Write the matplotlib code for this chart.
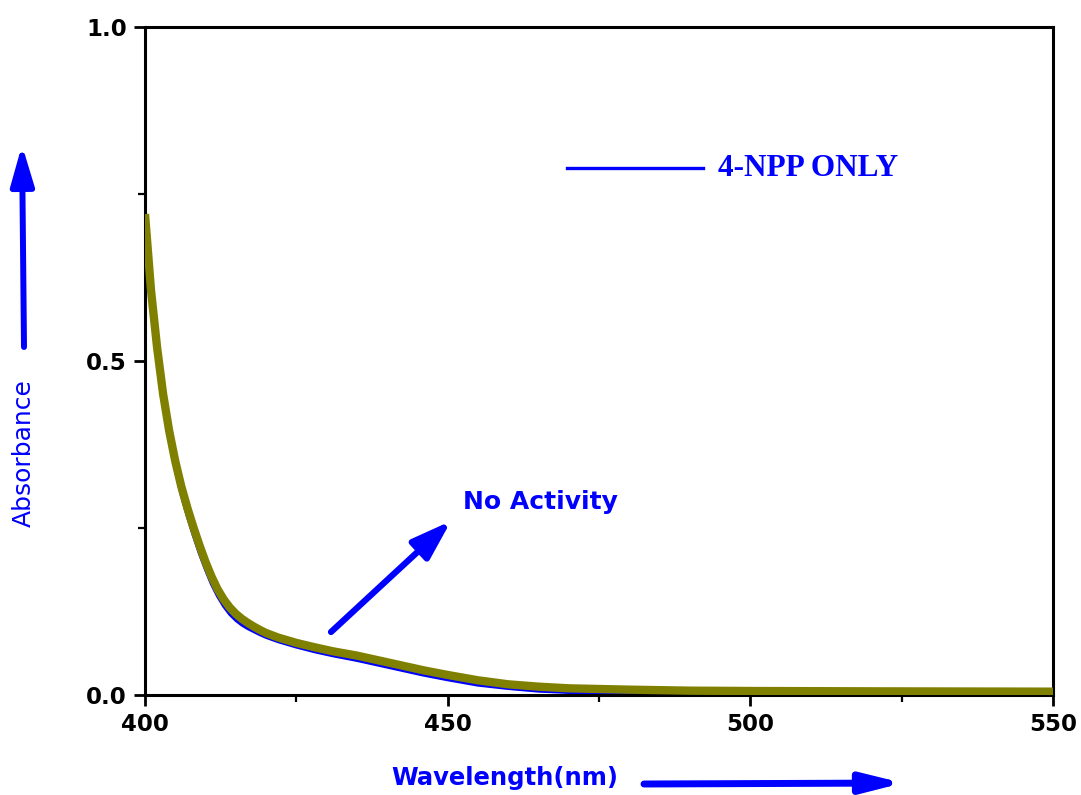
import matplotlib
matplotlib.use("Agg")
import matplotlib.pyplot as plt
from matplotlib.patches import FancyArrowPatch
from matplotlib.ticker import MultipleLocator

wavelength = [400, 401, 402, 403, 404, 405, 406, 407, 408, 409, 410, 411, 412, 413, 414, 415,
              416, 417, 418, 419, 420, 422, 425, 428, 431, 435, 438, 442, 446, 450, 455, 460,
              465, 470, 475, 480, 490, 500, 520, 550]
abs_4npp = [0.72, 0.595, 0.508, 0.438, 0.383, 0.338, 0.300, 0.268, 0.239, 0.212, 0.188, 0.166,
            0.148, 0.133, 0.121, 0.112, 0.105, 0.0995, 0.095, 0.0905, 0.0865, 0.080, 0.072,
            0.065, 0.059, 0.052, 0.046, 0.038, 0.030, 0.023, 0.015, 0.010, 0.006, 0.004, 0.003,
            0.002, 0.002, 0.0015, 0.001, 0.001]
abs_sample = [0.72, 0.605, 0.52, 0.45, 0.395, 0.35, 0.312, 0.280, 0.251, 0.224, 0.199, 0.177,
              0.158, 0.143, 0.131, 0.1215, 0.114, 0.1078, 0.1023, 0.0973, 0.0928, 0.086, 0.078,
              0.0715, 0.0655, 0.059, 0.053, 0.045, 0.037, 0.030, 0.022, 0.016, 0.0125, 0.010,
              0.009, 0.008, 0.0065, 0.006, 0.0055, 0.005]

xticks = [400, 450, 500, 550]
yticks = [0.0, 0.5, 1.0]
ytick_labels = ["0.0", "0.5", "1.0"]

W, H = 1081, 795
fig = plt.figure(figsize=(W / 100, H / 100), dpi=100)
ax = fig.add_axes([145 / W, 1 - 695 / H, (1053 - 145) / W, (695 - 27) / H])

ax.plot(wavelength, abs_4npp, color="#0000FF", lw=2.4, zorder=2)
ax.plot(wavelength, abs_sample, color="#808000", lw=6.0, zorder=3, solid_capstyle="butt")

ax.set_xlim(400, 550)
ax.set_ylim(0, 1.0)
ax.set_xticks(xticks)
ax.set_yticks(yticks)
ax.set_yticklabels(ytick_labels)
ax.xaxis.set_minor_locator(MultipleLocator(25))
ax.yaxis.set_minor_locator(MultipleLocator(0.25))
ax.tick_params(which="major", direction="out", length=8, width=2, labelsize=16.5, pad=5)
ax.tick_params(which="minor", direction="out", length=5, width=1.6)
ax.tick_params(top=False, right=False)
for lab in ax.get_xticklabels() + ax.get_yticklabels():
    lab.set_fontweight("bold")
for s in ax.spines.values():
    s.set_linewidth(2.2)

# legend-like entry
ax.plot([567 / W, 703 / W], [1 - 168 / H, 1 - 168 / H], transform=fig.transFigure,
        color="#0000FF", lw=2.4, clip_on=False)
fig.text(718 / W, 1 - 168 / H, "4-NPP ONLY", family="Liberation Serif", fontweight="bold",
         fontsize=22.5, color="#0000FF", va="center", ha="left")

# annotation
fig.text(463 / W, 1 - 502 / H, "No Activity", fontweight="bold", fontsize=18,
         color="#0000FF", va="center", ha="left")
fig.add_artist(FancyArrowPatch(
    (331, H - 632), (451, H - 521), transform=None, shrinkA=0, shrinkB=0,
    arrowstyle="-|>,head_length=24,head_width=8", color="#0000FF", lw=4.5,
    mutation_scale=1, joinstyle="round", capstyle="round"))

# axis labels with arrows
fig.text(24 / W, 1 - 453 / H, "Absorbance", fontsize=18, color="#0000FF",
         rotation=90, va="center", ha="center")
fig.add_artist(FancyArrowPatch(
    (24, H - 347), (22, H - 145), transform=None, shrinkA=0, shrinkB=0,
    arrowstyle="-|>,head_length=24,head_width=7", color="#0000FF", lw=4.3,
    mutation_scale=1))

fig.text(505 / W, 1 - 778 / H, "Wavelength(nm)", fontweight="bold", fontsize=17.5,
         color="#0000FF", va="center", ha="center")
fig.add_artist(FancyArrowPatch(
    (644, H - 784), (903, H - 783), transform=None, shrinkA=0, shrinkB=0,
    arrowstyle="-|>,head_length=24,head_width=6", color="#0000FF", lw=5,
    mutation_scale=1))

fig.savefig("out.png", dpi=100)
